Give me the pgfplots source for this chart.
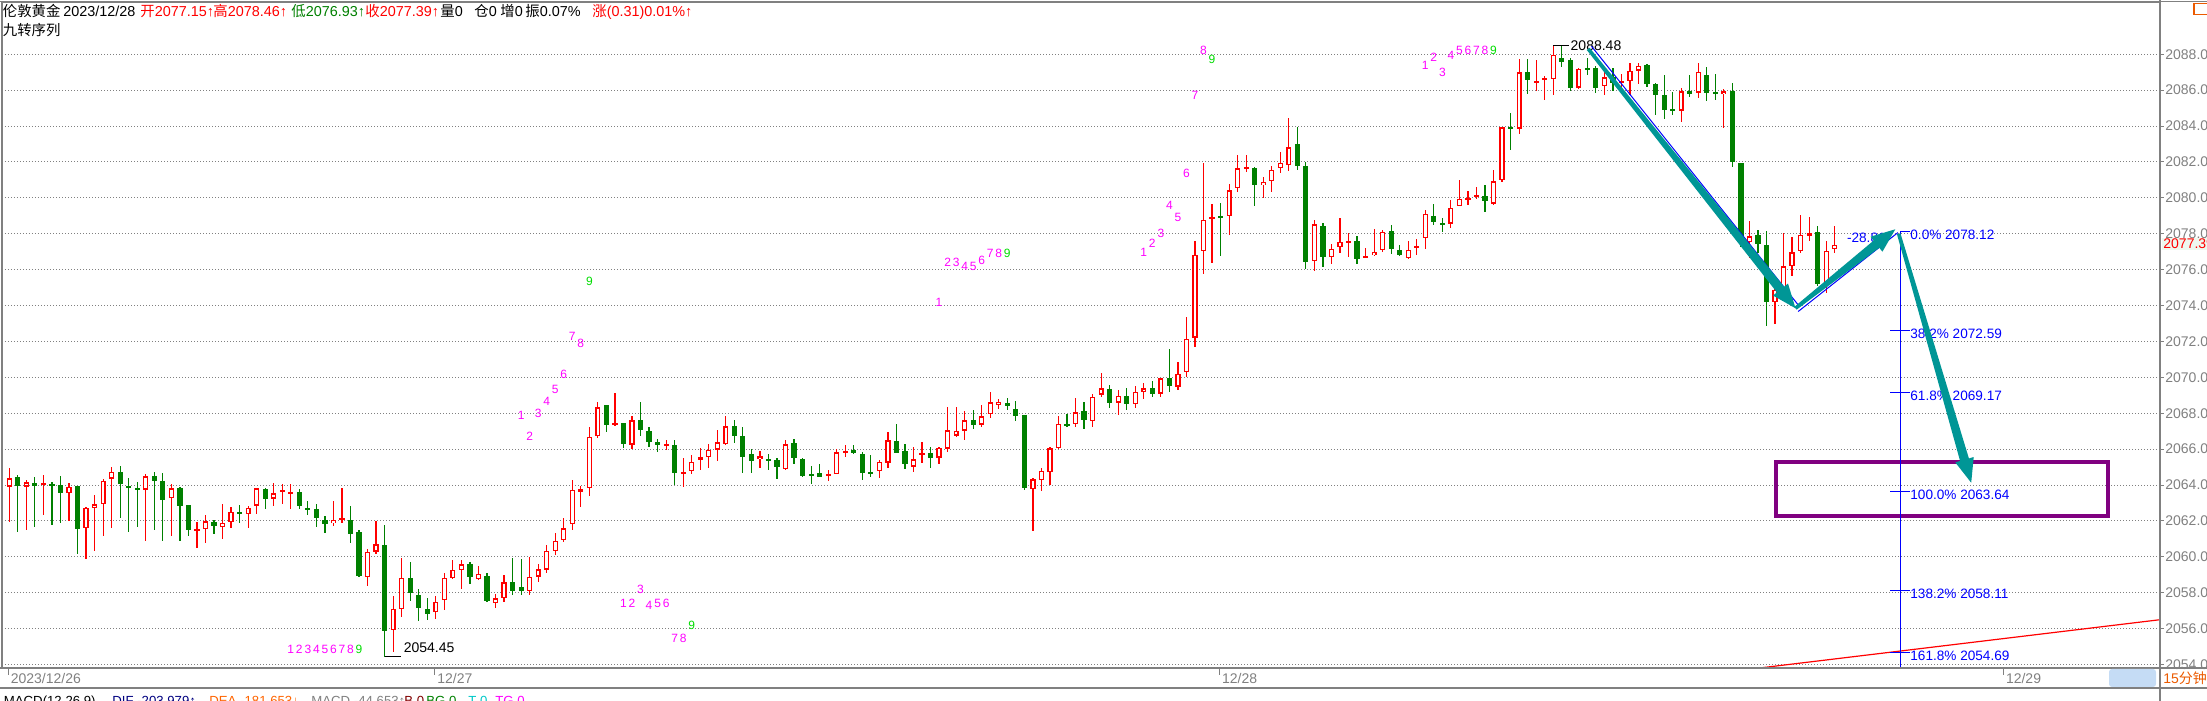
\documentclass[border=0pt]{standalone}
\usepackage{fontspec}
\setmainfont{Liberation Sans}
\newfontfamily\cjk{Noto Sans CJK SC}
\usepackage{pgfplots}
\pgfplotsset{compat=1.18}
\usepackage{pgfplotstable}
\usetikzlibrary{calc}

\definecolor{upred}{RGB}{255,0,0}
\definecolor{dngreen}{RGB}{0,128,0}
\definecolor{framegray}{RGB}{128,128,128}
\definecolor{fibblue}{RGB}{0,0,255}
\definecolor{arrowteal}{RGB}{0,150,150}
\definecolor{boxpurple}{RGB}{128,0,128}
\definecolor{jzmag}{RGB}{255,0,255}
\definecolor{jzgreen}{RGB}{0,220,0}
\definecolor{tforange}{RGB}{235,90,0}
\definecolor{difblue}{RGB}{0,0,128}
\definecolor{deaorange}{RGB}{255,100,0}
\definecolor{bred}{RGB}{128,0,0}
\definecolor{tcyan}{RGB}{0,200,200}
\definecolor{tabblue}{RGB}{197,220,245}

\newcommand{\zh}[1]{{\cjk #1}}
\newcommand{\jz}[3]{\node[font=\fontsize{6}{6}\selectfont,text=jzmag,inner sep=0pt] at (axis cs:#1,#2) {#3};}
\newcommand{\jg}[2]{\node[font=\fontsize{6}{6}\selectfont,text=jzgreen,inner sep=0pt] at (axis cs:#1,#2) {9};}
% tapered arrow from #1 to tip #2
\newcommand{\fatarrow}[3]{%
  \coordinate (#3) at ($(#2)!12pt!(#1)$);
  \fill[arrowteal] ($(#1)!0.9pt!90:(#2)$) -- ($(#3)!2.3pt!90:(#2)$) -- ($(#3)!4.8pt!90:(#2)$) -- (#2)
    -- ($(#3)!4.8pt!-90:(#2)$) -- ($(#3)!2.3pt!-90:(#2)$) -- ($(#1)!0.9pt!-90:(#2)$) -- cycle;}
% invisible carrier plot whose error bars draw the candles
\pgfplotsset{candle/.style={only marks, mark=*, mark size=0pt, mark options={draw=none, fill=none}}}

% 15 min candles: index, open, high, low, close
\pgfplotstableread{
i o h l c
0 2063.93 2064.96 2061.98 2064.39
1 2064.46 2064.57 2061.37 2063.93
2 2063.93 2064.30 2061.48 2064.17
3 2064.13 2064.46 2061.65 2063.98
4 2064.04 2064.57 2062.37 2064.13
5 2064.07 2064.20 2061.76 2063.98
6 2064.02 2064.52 2061.87 2063.59
7 2063.56 2064.13 2061.98 2063.89
8 2063.98 2063.98 2060.15 2061.59
9 2061.61 2062.80 2059.87 2062.72
10 2062.72 2063.46 2060.37 2062.94
11 2062.94 2064.32 2061.15 2064.24
12 2064.37 2065.00 2061.59 2064.74
13 2064.74 2065.07 2062.15 2064.09
14 2063.98 2064.39 2061.37 2063.82
15 2063.80 2064.19 2061.65 2063.76
16 2063.76 2064.63 2060.87 2064.50
17 2064.52 2064.74 2061.48 2064.26
18 2064.24 2064.69 2060.87 2063.20
19 2063.28 2064.07 2061.15 2063.83
20 2063.85 2063.89 2060.87 2062.87
21 2062.91 2062.91 2061.15 2061.48
22 2061.48 2061.96 2060.48 2061.52
23 2061.56 2062.35 2060.76 2062.00
24 2061.96 2062.07 2061.26 2061.70
25 2061.67 2062.96 2061.00 2061.89
26 2061.93 2062.80 2061.59 2062.50
27 2062.52 2062.91 2061.87 2062.37
28 2062.39 2062.82 2061.59 2062.72
29 2062.87 2063.85 2062.37 2063.83
30 2063.80 2063.85 2062.65 2063.26
31 2063.26 2064.13 2062.87 2063.56
32 2063.67 2064.07 2062.96 2063.69
33 2063.54 2064.07 2062.65 2063.56
34 2063.63 2063.76 2062.69 2062.82
35 2062.74 2063.13 2062.35 2062.65
36 2062.69 2062.96 2061.70 2062.15
37 2062.06 2062.26 2061.31 2061.87
38 2061.89 2063.13 2061.70 2062.06
39 2062.04 2063.85 2061.87 2062.17
40 2062.07 2062.85 2060.76 2061.31
41 2061.41 2061.52 2058.87 2058.93
42 2058.89 2060.44 2058.37 2060.30
43 2060.31 2062.04 2060.15 2060.72
44 2060.69 2061.80 2054.45 2055.87
45 2055.94 2057.83 2054.70 2057.11
46 2057.09 2059.96 2056.65 2058.83
47 2058.83 2059.74 2057.54 2058.00
48 2057.89 2058.22 2056.43 2057.15
49 2057.07 2057.69 2056.48 2056.83
50 2056.94 2057.83 2056.54 2057.50
51 2057.61 2059.09 2057.04 2058.83
52 2058.83 2059.85 2058.78 2059.28
53 2059.28 2059.83 2058.20 2059.61
54 2059.61 2059.72 2058.48 2058.89
55 2058.78 2059.50 2058.70 2059.06
56 2058.96 2059.13 2057.48 2057.56
57 2057.44 2057.91 2057.15 2057.70
58 2057.70 2059.00 2057.50 2058.60
59 2058.60 2059.95 2057.90 2058.10
60 2058.30 2059.90 2057.90 2058.10
61 2058.10 2060.00 2057.90 2058.90
62 2058.90 2059.60 2058.60 2059.30
63 2059.30 2060.67 2059.10 2060.33
64 2060.33 2061.35 2060.13 2060.89
65 2060.93 2062.17 2060.83 2061.61
66 2061.83 2064.30 2061.52 2063.74
67 2063.65 2063.93 2062.76 2063.78
68 2063.81 2067.24 2063.41 2066.69
69 2066.72 2068.63 2066.60 2068.33
70 2068.46 2068.46 2066.96 2067.37
71 2067.35 2069.13 2067.30 2067.44
72 2067.46 2067.46 2066.09 2066.31
73 2066.26 2067.83 2066.02 2067.61
74 2067.63 2068.63 2066.76 2067.09
75 2067.02 2067.24 2066.15 2066.43
76 2066.41 2066.59 2065.87 2066.26
77 2066.20 2066.52 2065.96 2066.26
78 2066.24 2066.52 2063.98 2064.70
79 2064.65 2065.52 2063.93 2064.70
80 2064.76 2065.69 2064.60 2065.28
81 2065.43 2066.07 2064.87 2065.57
82 2065.54 2066.33 2064.98 2065.96
83 2065.98 2067.07 2065.37 2066.39
84 2066.28 2067.85 2066.26 2067.28
85 2067.28 2067.63 2066.37 2066.76
86 2066.74 2067.24 2064.70 2065.59
87 2065.72 2066.00 2064.70 2065.37
88 2065.44 2065.91 2064.98 2065.61
89 2065.46 2065.74 2064.85 2065.37
90 2065.39 2065.50 2064.37 2065.00
91 2064.91 2066.52 2064.87 2066.28
92 2066.35 2066.57 2065.15 2065.54
93 2065.46 2065.52 2064.43 2064.54
94 2064.57 2065.09 2064.09 2064.54
95 2064.69 2065.15 2064.43 2064.46
96 2064.54 2064.85 2064.26 2064.63
97 2064.61 2066.00 2064.61 2065.83
98 2065.81 2066.24 2065.59 2065.91
99 2065.96 2066.24 2065.74 2065.78
100 2065.74 2065.83 2064.30 2064.70
101 2064.69 2065.69 2064.48 2064.65
102 2064.76 2065.41 2064.43 2065.28
103 2065.26 2066.96 2064.98 2066.50
104 2066.46 2067.41 2065.80 2065.83
105 2065.91 2066.30 2064.91 2065.19
106 2065.04 2066.13 2064.74 2065.44
107 2065.67 2066.41 2065.24 2065.80
108 2065.80 2066.13 2064.98 2065.52
109 2065.54 2066.15 2065.20 2066.07
110 2066.04 2068.35 2065.83 2067.07
111 2066.76 2068.35 2066.69 2067.02
112 2067.04 2068.13 2066.54 2067.63
113 2067.63 2068.19 2067.15 2067.37
114 2067.37 2068.46 2067.26 2067.85
115 2067.94 2069.19 2067.76 2068.61
116 2068.50 2068.81 2068.26 2068.67
117 2068.57 2068.85 2068.19 2068.43
118 2068.24 2068.69 2067.59 2067.87
119 2067.89 2067.89 2063.74 2063.87
120 2063.78 2064.43 2061.48 2064.33
121 2064.28 2064.96 2063.65 2064.78
122 2064.72 2066.15 2064.02 2066.06
123 2066.06 2067.85 2066.04 2067.44
124 2067.43 2067.98 2067.26 2067.31
125 2067.39 2068.85 2067.26 2068.06
126 2068.13 2068.63 2067.15 2067.65
127 2067.56 2069.06 2067.26 2068.93
128 2069.04 2070.24 2068.90 2069.39
129 2069.35 2069.60 2068.30 2068.60
130 2068.60 2069.30 2067.90 2069.00
131 2069.00 2069.40 2068.20 2068.50
132 2068.50 2069.50 2068.30 2069.20
133 2069.20 2069.70 2068.80 2069.40
134 2069.40 2069.80 2068.90 2069.10
135 2069.10 2070.00 2068.90 2069.95
136 2069.95 2071.57 2069.20 2069.50
137 2069.50 2070.89 2069.30 2070.22
138 2070.31 2073.35 2070.00 2072.17
139 2072.22 2077.63 2071.72 2076.83
140 2077.04 2081.96 2075.78 2078.78
141 2078.83 2079.69 2076.39 2078.89
142 2078.98 2079.72 2076.76 2078.93
143 2079.00 2080.80 2077.93 2080.44
144 2080.56 2082.39 2080.31 2081.67
145 2081.63 2082.39 2081.43 2081.69
146 2081.69 2081.74 2079.54 2080.70
147 2080.72 2081.19 2079.98 2080.89
148 2080.94 2081.80 2080.31 2081.56
149 2081.67 2082.57 2081.37 2081.94
150 2081.83 2084.44 2081.48 2082.83
151 2083.02 2083.96 2081.57 2081.76
152 2081.80 2082.02 2076.07 2076.43
153 2076.48 2078.80 2075.93 2078.52
154 2078.46 2078.63 2076.15 2076.70
155 2076.72 2077.41 2076.31 2077.17
156 2077.28 2078.91 2076.93 2077.56
157 2077.54 2078.07 2076.70 2077.57
158 2077.63 2077.91 2076.31 2076.59
159 2076.67 2077.22 2076.65 2076.80
160 2076.81 2078.24 2076.76 2077.00
161 2077.11 2078.24 2076.98 2078.11
162 2078.13 2078.52 2076.87 2077.15
163 2077.11 2077.41 2076.76 2076.81
164 2076.65 2077.63 2076.59 2077.11
165 2077.22 2077.74 2076.81 2077.26
166 2077.78 2079.35 2077.15 2079.11
167 2079.02 2079.69 2078.48 2078.65
168 2078.59 2078.89 2078.09 2078.54
169 2078.56 2079.89 2078.31 2079.44
170 2079.56 2081.02 2079.56 2079.94
171 2079.93 2080.41 2079.59 2079.96
172 2080.07 2080.63 2079.93 2080.17
173 2080.11 2080.74 2079.20 2079.81
174 2079.70 2081.57 2079.59 2080.94
175 2081.00 2083.98 2080.90 2083.94
176 2083.94 2084.74 2082.65 2083.89
177 2083.86 2087.72 2083.56 2086.99
178 2087.01 2087.72 2085.80 2086.60
179 2086.45 2087.68 2085.99 2086.51
180 2086.56 2086.81 2085.48 2086.64
181 2086.60 2088.48 2085.73 2087.96
182 2087.83 2088.47 2087.31 2087.59
183 2087.66 2087.81 2085.95 2086.14
184 2086.14 2087.22 2086.10 2087.20
185 2087.22 2087.81 2086.86 2087.14
186 2087.22 2087.35 2085.86 2086.14
187 2086.21 2087.07 2085.74 2086.71
188 2086.73 2087.22 2085.97 2086.38
189 2086.46 2086.89 2085.78 2086.50
190 2086.52 2087.50 2085.74 2087.07
191 2087.09 2087.54 2086.35 2087.37
192 2087.41 2087.46 2086.20 2086.35
193 2086.37 2086.43 2084.65 2085.74
194 2085.72 2086.83 2084.41 2084.91
195 2084.91 2085.89 2084.61 2084.87
196 2084.87 2086.11 2084.26 2085.94
197 2085.96 2086.83 2085.63 2085.81
198 2085.87 2087.54 2085.57 2087.04
199 2086.87 2087.30 2085.41 2085.85
200 2085.85 2086.89 2085.46 2085.81
201 2085.76 2086.09 2083.91 2085.94
202 2085.94 2086.41 2081.70 2082.02
203 2081.94 2081.94 2077.24 2077.48
204 2077.54 2078.72 2076.63 2077.87
205 2077.94 2078.22 2076.93 2077.43
206 2077.35 2078.17 2072.85 2074.20
207 2074.20 2075.22 2073.00 2074.89
208 2074.60 2078.04 2074.30 2076.19
209 2076.20 2077.85 2075.65 2076.98
210 2077.04 2079.07 2076.93 2077.94
211 2077.94 2078.93 2077.59 2078.00
212 2078.11 2078.46 2075.09 2075.20
213 2075.26 2077.59 2074.70 2077.06
214 2077.15 2078.46 2076.93 2077.39
}\candles

\begin{document}
\begin{tikzpicture}[x=0.5pt,y=0.5pt]
\useasboundingbox (0,0) rectangle (2207,701);
\begin{axis}[
  at={(1pt,16.5pt)}, anchor=south west,
  x=4.265pt, y=8.975pt,
  xmin=-0.856, xmax=252.13, ymin=2053.81, ymax=2090.91,
  clip mode=individual,
  axis line style={framegray, line width=0.8pt},
  tick align=outside,
  major tick length=2pt,
  xtick={-0.1,49.9,141.9,233.8},
  xticklabels={2023/12/26,12/27,12/28,12/29},
  xtick pos=lower,
  xtick style={framegray, line width=0.5pt, /pgfplots/major tick length=3.5pt},
  xticklabel style={font=\fontsize{7}{8}\selectfont, text=framegray, anchor=north west, inner sep=0pt, xshift=1pt, yshift=-0.5pt},
  ytick={2054,2056,...,2088},
  ytick pos=upper,
  yticklabel pos=right,
  ytick style={framegray, line width=0.5pt},
  yticklabel style={font=\fontsize{7}{8}\selectfont, text=framegray, anchor=west, inner sep=0pt, xshift=0.5pt,
    /pgf/number format/fixed, /pgf/number format/fixed zerofill, /pgf/number format/precision=2,
    /pgf/number format/1000 sep={}, /pgf/number format/assume math mode=true},
  ymajorgrids,
  grid style={framegray, line width=0.5pt, dash pattern=on 0.5pt off 1pt},
]
% wicks
\addplot[candle, restrict expr to domain={\thisrow{c}-\thisrow{o}}{0:100},
  error bars/.cd, y dir=both, y explicit, error mark=none, error bar style={draw=upred, line width=0.6pt}]
  table[x=i, y expr={(\thisrow{h}+\thisrow{l})/2}, y error expr={(\thisrow{h}-\thisrow{l})/2}] {\candles};
\addplot[candle, restrict expr to domain={\thisrow{c}-\thisrow{o}}{-100:-0.001},
  error bars/.cd, y dir=both, y explicit, error mark=none, error bar style={draw=dngreen, line width=0.6pt}]
  table[x=i, y expr={(\thisrow{h}+\thisrow{l})/2}, y error expr={(\thisrow{h}-\thisrow{l})/2}] {\candles};
% bodies: up = hollow red, down = filled green
\addplot[candle, restrict expr to domain={\thisrow{c}-\thisrow{o}}{0:100},
  error bars/.cd, y dir=both, y explicit, error mark=none, error bar style={draw=upred, line width=2.6pt}]
  table[x=i, y expr={(\thisrow{o}+\thisrow{c})/2}, y error expr={max(abs(\thisrow{c}-\thisrow{o})/2,0.06)}] {\candles};
\addplot[candle, restrict expr to domain={\thisrow{c}-\thisrow{o}}{0:100},
  error bars/.cd, y dir=both, y explicit, error mark=none, error bar style={draw=white, line width=1.3pt}]
  table[x=i, y expr={(\thisrow{o}+\thisrow{c})/2}, y error expr={max(abs(\thisrow{c}-\thisrow{o})/2-0.075,0)}] {\candles};
\addplot[candle, restrict expr to domain={\thisrow{c}-\thisrow{o}}{-100:-0.001},
  error bars/.cd, y dir=both, y explicit, error mark=none, error bar style={draw=dngreen, line width=2.6pt}]
  table[x=i, y expr={(\thisrow{o}+\thisrow{c})/2}, y error expr={max(abs(\thisrow{c}-\thisrow{o})/2,0.06)}] {\candles};

% high / low markers
\draw[black, line width=0.5pt] (axis cs:181,2088.48) -- (axis cs:182.9,2088.48);
\node[anchor=west, inner sep=0pt, font=\fontsize{7}{8}\selectfont] at (axis cs:183.0,2088.46) {2088.48};
\draw[black, line width=0.5pt] (axis cs:44,2054.45) -- (axis cs:45.9,2054.45);
\node[anchor=west, inner sep=0pt, font=\fontsize{7}{8}\selectfont] at (axis cs:46.2,2054.93) {2054.45};

% nine-turn sequence numbers
\jz{33}{2054.85}{1}\jz{34}{2054.85}{2}\jz{35}{2054.85}{3}\jz{36}{2054.85}{4}\jz{37}{2054.85}{5}
\jz{38}{2054.85}{6}\jz{39}{2054.85}{7}\jz{40}{2054.85}{8}\jg{41}{2054.85}
\jz{60}{2067.91}{1}\jz{61}{2066.69}{2}\jz{62}{2067.98}{3}\jz{63}{2068.67}{4}\jz{64}{2069.33}{5}
\jz{65}{2070.19}{6}\jz{66}{2072.30}{7}\jz{67}{2071.90}{8}\jg{68}{2075.33}
\jz{72}{2057.40}{1}\jz{73}{2057.40}{2}\jz{74}{2058.20}{3}\jz{75}{2057.30}{4}\jz{76}{2057.40}{5}
\jz{77}{2057.40}{6}\jz{78}{2055.45}{7}\jz{79}{2055.45}{8}\jg{80}{2056.20}
\jz{109}{2074.20}{1}\jz{110}{2076.40}{2}\jz{111}{2076.40}{3}\jz{112}{2076.20}{4}\jz{113}{2076.20}{5}
\jz{114}{2076.50}{6}\jz{115}{2076.90}{7}\jz{116}{2076.90}{8}\jg{117}{2076.90}
\jz{133}{2076.94}{1}\jz{134}{2077.46}{2}\jz{135}{2078.02}{3}\jz{136}{2079.59}{4}\jz{137}{2078.91}{5}
\jz{138}{2081.39}{6}\jz{139}{2085.70}{7}\jz{140}{2088.19}{8}\jg{141}{2087.74}
\jz{166}{2087.40}{1}\jz{167}{2087.81}{2}\jz{168}{2086.97}{3}\jz{169}{2087.92}{4}\jz{170}{2088.20}{5}
\jz{171}{2088.20}{6}\jz{172}{2088.20}{7}\jz{173}{2088.20}{8}\jg{174}{2088.20}

% target box and trend line
\draw[boxpurple, line width=2pt] (axis cs:207.1,2065.28) rectangle (axis cs:246.0,2062.27);
\draw[upred, line width=0.6pt] (axis cs:205.2,2053.81) -- (axis cs:252.13,2056.5);

% fibonacci projection
\draw[fibblue, line width=0.6pt] (axis cs:221.7,2078.12) -- (axis cs:221.7,2053.81);
\draw[fibblue, line width=0.6pt] (axis cs:221.7,2078.12) -- ++(5pt,0pt);
\foreach \lv in {2072.59,2069.17,2063.64,2058.11,2054.69}
  {\edef\tmp{\noexpand\draw[fibblue, line width=0.6pt] (axis cs:221.7,\lv) ++(-5pt,0pt) -- ++(10pt,0pt);}\tmp}
\begin{scope}[every node/.style={anchor=north west, inner sep=0pt, text=fibblue, font=\fontsize{6.8}{7}\selectfont, xshift=4.8pt, yshift=1pt}]
\node at (axis cs:221.7,2078.12) {0.0\% 2078.12};
\node at (axis cs:221.7,2072.59) {38.2\% 2072.59};
\node at (axis cs:221.7,2069.17) {61.8\% 2069.17};
\node at (axis cs:221.7,2063.64) {100.0\% 2063.64};
\node at (axis cs:221.7,2058.11) {138.2\% 2058.11};
\node at (axis cs:221.7,2054.69) {161.8\% 2054.69};
\end{scope}
\node[anchor=west, inner sep=0pt, text=fibblue, font=\fontsize{6.8}{7}\selectfont] at (axis cs:215.4,2077.80) {-28.81};

% arrows
\coordinate (P1) at (axis cs:185.1,2088.30);
\coordinate (P2) at (axis cs:209.4,2073.85);
\coordinate (P3) at (axis cs:221.1,2078.25);
\coordinate (P3b) at (axis cs:221.5,2078.00);
\coordinate (P4) at (axis cs:230.0,2064.13);
\draw[fibblue, line width=0.5pt] ($(P1)!2.1pt!90:(P2)$) -- ($(P2)!2.1pt!-90:(P1)$);
\draw[fibblue, line width=0.5pt] ($(P2)!2.1pt!-90:(P3)$) -- ($(P3)!2.1pt!90:(P2)$);
\fatarrow{P1}{P2}{H1}
\fatarrow{P2}{P3}{H2}
\fatarrow{P3b}{P4}{H3}
\end{axis}

% frame pieces outside the price axis
\draw[framegray, line width=0.8pt] (0,699.5) -- (2207,699.5);
\draw[framegray, line width=0.8pt] (0,33) -- (2207,33);
\draw[framegray, line width=0.8pt] (0,13) -- (2207,13);
\draw[framegray, line width=0.8pt] (2160,0) -- (2160,701);
\draw[tforange, line width=0.6pt] (2194,697.4) rectangle (2212,686.7);
\fill[tabblue, rounded corners=1.5pt] (2109,14) rectangle (2156,32);
\node[anchor=base west, inner sep=0pt, text=tforange, font=\fontsize{7}{8}\selectfont] at (2163,17) {15\zh{分钟}};

% last price tag
\node[anchor=west, inner sep=0.5pt, fill={rgb,255:red,238;green,248;blue,238}, text=upred, font=\fontsize{7}{8}\selectfont] at (2162,457) {2077.39};

% header lines
\begin{scope}[every node/.style={anchor=base west, inner sep=0pt, font=\fontsize{7.2}{8}\selectfont}]
\node at (2.5,684.5) {\zh{伦敦黄金}};
\node at (63,684.5) {2023/12/28};
\node[text=upred] at (140,684.5) {\zh{开}2077.15↑};
\node[text=upred] at (213,684.5) {\zh{高}2078.46↑};
\node[text=dngreen] at (291,684.5) {\zh{低}2076.93↑};
\node[text=upred] at (365,684.5) {\zh{收}2077.39↑};
\node at (440,684.5) {\zh{量}0};
\node at (474,684.5) {\zh{仓}0};
\node at (500,684.5) {\zh{增}0};
\node at (525,684.5) {\zh{振}0.07\%};
\node[text=upred] at (592,684.5) {\zh{涨}(0.31)0.01\%↑};
\node at (2.5,665) {\zh{九转序列}};
\end{scope}

% indicator line, cut by the lower edge
\begin{scope}[every node/.style={anchor=base west, inner sep=0pt, font=\fontsize{6.6}{8}\selectfont}]
\node at (3.5,-4.5) {MACD(12,26,9)};
\node[text=difblue] at (112,-4.5) {DIF -203.979↑};
\node[text=deaorange] at (209,-4.5) {DEA -181.653↓};
\node[text=framegray] at (311,-4.5) {MACD -44.653↑};
\node[text=bred] at (404,-4.5) {B 0};
\node[text=dngreen] at (426,-4.5) {BG 0};
\node[text=tcyan] at (468,-4.5) {T 0};
\node[text=jzmag] at (495,-4.5) {TG 0};
\end{scope}
\end{tikzpicture}
\end{document}
